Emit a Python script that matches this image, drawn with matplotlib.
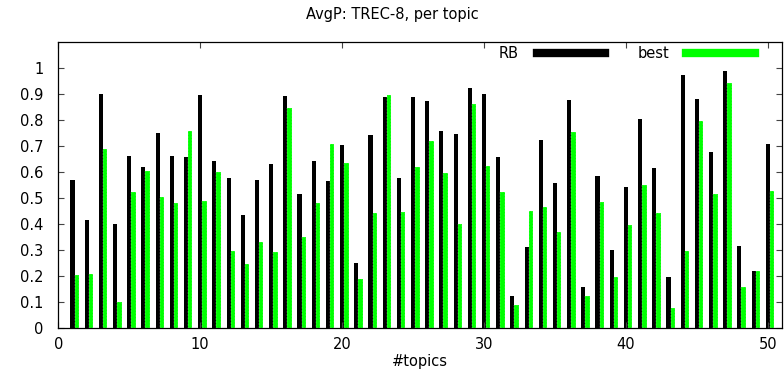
import matplotlib
matplotlib.use("Agg")
import matplotlib.pyplot as plt
from matplotlib.lines import Line2D
import numpy as np

topics = list(range(1, 51))
rb = [0.568, 0.415, 0.900, 0.401, 0.662, 0.618, 0.750, 0.660, 0.658, 0.895,
      0.644, 0.576, 0.436, 0.568, 0.631, 0.890, 0.515, 0.641, 0.567, 0.704,
      0.251, 0.740, 0.886, 0.576, 0.888, 0.873, 0.756, 0.745, 0.923, 0.900,
      0.658, 0.124, 0.313, 0.723, 0.559, 0.877, 0.160, 0.583, 0.301, 0.544,
      0.804, 0.614, 0.196, 0.971, 0.881, 0.676, 0.986, 0.314, 0.221, 0.708]
best = [0.204, 0.208, 0.687, 0.101, 0.523, 0.604, 0.505, 0.482, 0.759, 0.488,
        0.601, 0.297, 0.247, 0.332, 0.294, 0.846, 0.350, 0.481, 0.709, 0.633,
        0.191, 0.441, 0.895, 0.447, 0.619, 0.719, 0.596, 0.401, 0.859, 0.624,
        0.524, 0.088, 0.451, 0.467, 0.371, 0.754, 0.124, 0.485, 0.196, 0.397,
        0.551, 0.444, 0.078, 0.295, 0.794, 0.517, 0.941, 0.159, 0.221, 0.527]
xticks = [0, 10, 20, 30, 40, 50]
yticks = [0, 0.1, 0.2, 0.3, 0.4, 0.5, 0.6, 0.7, 0.8, 0.9, 1.0]
ytick_labels = ["0", "0.1", "0.2", "0.3", "0.4", "0.5", "0.6", "0.7", "0.8", "0.9", "1"]

plt.rcParams['font.family'] = ['DejaVu Sans']
FS = 10.5
GREEN = '#00ff00'

fig = plt.figure(figsize=(7.84, 3.73), dpi=100)
ax = fig.add_axes([58.3 / 784, 1 - 328.3 / 373, (782 - 58.3) / 784, (328.3 - 41.7) / 373])

x = np.array(topics, dtype=float)
w = 0.29
ax.bar(x, rb, width=w, color='black', linewidth=0, align='center')
ax.bar(x + 0.30, best, width=w + 0.02, color=GREEN, edgecolor='white',
       linewidth=0.35, linestyle=(0, (1, 2)), align='center')

ax.set_xlim(0, 51)
ax.set_ylim(0, 1.1)
ax.set_xticks(xticks)
ax.set_xticklabels([str(t) for t in xticks], fontsize=FS)
ax.set_yticks(yticks)
ax.set_yticklabels(ytick_labels, fontsize=FS)
ax.tick_params(direction='in', length=4.5, width=0.8, color='#444444',
               top=True, right=True, labeltop=False, labelright=False)
ax.tick_params(axis='y', pad=10.5)
ax.tick_params(axis='x', pad=6)
for s in ax.spines.values():
    s.set_linewidth(0.9)
    s.set_color('black')

ax.set_xlabel('#topics', fontsize=FS, labelpad=1.5)
fig.text(0.5, 1 - 15 / 373, 'AvgP: TREC-8, per topic', ha='center', va='center', fontsize=FS)

handles = [Line2D([0], [0], color='black', lw=6), Line2D([0], [0], color=GREEN, lw=6)]
leg = ax.legend(handles, ['RB', 'best'], loc='center right',
                bbox_to_anchor=((755 - 58.3) / (782 - 58.3), (328.3 - 54) / (328.3 - 41.7)),
                ncol=2, markerfirst=False, frameon=False, fontsize=FS,
                handlelength=4.7, handletextpad=1.2, columnspacing=2.2,
                borderpad=0, borderaxespad=0)

fig.savefig('out.png', dpi=100)
